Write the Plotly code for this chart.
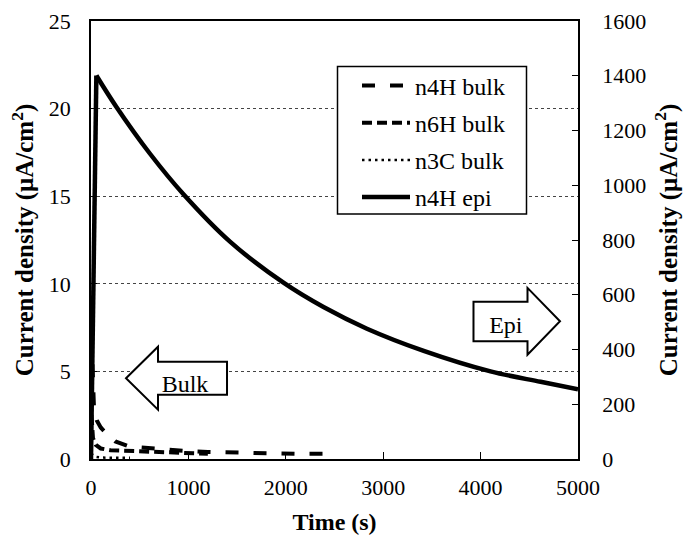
import plotly.graph_objects as go

# ---------------- data ----------------
epi_t = [0, 55, 261, 604, 947, 1427, 1976, 2387, 2833, 3416, 4102, 4616, 5000]
epi_j = [0, 1401, 1286, 1116, 968, 794, 644, 555, 476, 395, 320, 282, 255]

n4h_t = [5, 15, 30, 60, 100, 150, 250, 400, 600, 800, 1000, 1200, 1500, 1800, 2100, 2500]
n4h_j = [7.0, 4.5, 3.0, 2.2, 1.8, 1.5, 1.0, 0.7, 0.6, 0.55, 0.45, 0.4, 0.35, 0.32, 0.3, 0.3]

n6h_t = [5, 20, 50, 100, 200, 400, 600, 800, 1000, 1200]
n6h_j = [2.5, 1.2, 0.8, 0.6, 0.5, 0.45, 0.4, 0.35, 0.3, 0.3]

n3c_t = [0, 50, 100, 200, 300, 400]
n3c_j = [0.3, 0.12, 0.08, 0.07, 0.07, 0.07]

series_names = ["n4H bulk", "n6H bulk", "n3C bulk", "n4H epi"]

x_ticks = [0, 1000, 2000, 3000, 4000, 5000]
y_ticks = [0, 5, 10, 15, 20, 25]
y2_ticks = [0, 200, 400, 600, 800, 1000, 1200, 1400, 1600]

FONT = "Liberation Serif, Times New Roman, serif"
W, H = 684, 535
L, R, T, B = 91, 578, 20.5, 459.5


def px(x):
    return (x - L) / (R - L)


def py(y):
    return (B - y) / (B - T)


fig = go.Figure()
fig.add_trace(go.Scatter(x=n4h_t, y=n4h_j, name=series_names[0], mode="lines", legendgroup="a",
                         line=dict(color="black", width=4, dash="13px,15px")))
fig.add_trace(go.Scatter(x=n6h_t, y=n6h_j, name=series_names[1], mode="lines", legendgroup="b",
                         line=dict(color="black", width=4, dash="10px,5px")))
fig.add_trace(go.Scatter(x=n3c_t, y=n3c_j, name=series_names[2], mode="lines", legendgroup="c",
                         line=dict(color="black", width=2.5, dash="2.5px,4px")))
# epi: the sharp rise (first two samples) drawn straight, the decay drawn smooth
fig.add_trace(go.Scatter(x=epi_t[:2], y=epi_j[:2], name=series_names[3], mode="lines", yaxis="y2",
                         legendgroup="d", showlegend=False,
                         line=dict(color="black", width=4.5)))
fig.add_trace(go.Scatter(x=epi_t[1:], y=epi_j[1:], name=series_names[3], mode="lines", yaxis="y2",
                         legendgroup="d",
                         line=dict(color="black", width=4.5, shape="spline", smoothing=1.0)))


def arrow_path(pts):
    return "M " + " L ".join(f"{px(a):.4f},{py(b):.4f}" for a, b in pts) + " Z"


bulk_pts = [(126, 378.5), (158, 347), (158, 362), (227, 362), (227, 395), (158, 395), (158, 410)]
epi_pts = [(560, 321.5), (527.5, 288), (527.5, 302), (473.5, 302), (473.5, 341.5), (527.5, 341.5), (527.5, 355)]

shapes = []
for pts in (bulk_pts, epi_pts):
    shapes.append(dict(type="path", xref="paper", yref="paper", path=arrow_path(pts),
                       fillcolor="white", line=dict(color="black", width=2)))
# legend frame
shapes.append(dict(type="rect", xref="paper", yref="paper",
                   x0=px(337.5), x1=px(526.5), y0=py(214), y1=py(66),
                   fillcolor="white", line=dict(color="black", width=1.5), layer="above"))

annotations = [
    dict(text="Bulk", x=px(185), y=py(384), xref="paper", yref="paper", showarrow=False,
         xanchor="center", yanchor="middle", width=60, height=30, align="center", valign="middle",
         font=dict(family=FONT, size=24, color="black")),
    dict(text="Epi", x=px(506), y=py(325), xref="paper", yref="paper", showarrow=False,
         xanchor="center", yanchor="middle", width=50, height=30, align="center", valign="middle",
         font=dict(family=FONT, size=24, color="black")),
]

fig.update_layout(
    width=W, height=H,
    margin=dict(l=L, r=W - R, t=T, b=H - B, pad=0, autoexpand=False),
    paper_bgcolor="white", plot_bgcolor="white",
    font=dict(family=FONT, size=22, color="black"),
    showlegend=True,
    legend=dict(x=px(357), y=py(63), xanchor="left", yanchor="top",
                bgcolor="rgba(0,0,0,0)", borderwidth=0,
                font=dict(family=FONT, size=24, color="black"),
                itemwidth=48, tracegroupgap=3),
    xaxis=dict(range=[0, 5000], tickvals=x_ticks, ticks="inside", ticklen=7, tickcolor="black",
               showline=True, linecolor="black", linewidth=1.5, mirror=True, automargin=False,
               showgrid=False, zeroline=False, ticklabelstandoff=8,
               title=dict(text="<b>Time (s)</b>", standoff=20, font=dict(family=FONT, size=24))),
    yaxis=dict(range=[0, 25], tickvals=y_ticks, ticks="inside", ticklen=6, tickcolor="black",
               showline=True, linecolor="black", linewidth=1.5, automargin=False,
               showgrid=True, gridcolor="#444444", gridwidth=1, griddash="dot",
               zeroline=False, ticklabelstandoff=14,
               title=dict(text="<b>Current density (μA/cm<sup>2</sup>)</b>", standoff=8,
                          font=dict(family=FONT, size=25))),
    yaxis2=dict(range=[0, 1600], tickvals=y2_ticks, ticks="inside", ticklen=6, tickcolor="black",
                overlaying="y", side="right", showline=True, linecolor="black", linewidth=1.5,
                automargin=False,
                showgrid=False, zeroline=False, ticklabelstandoff=18,
                title=dict(text="<b>Current density (μA/cm<sup>2</sup>)</b>", standoff=14,
                           font=dict(family=FONT, size=25))),
    shapes=shapes,
    annotations=annotations,
)

fig.write_html("out.html")
